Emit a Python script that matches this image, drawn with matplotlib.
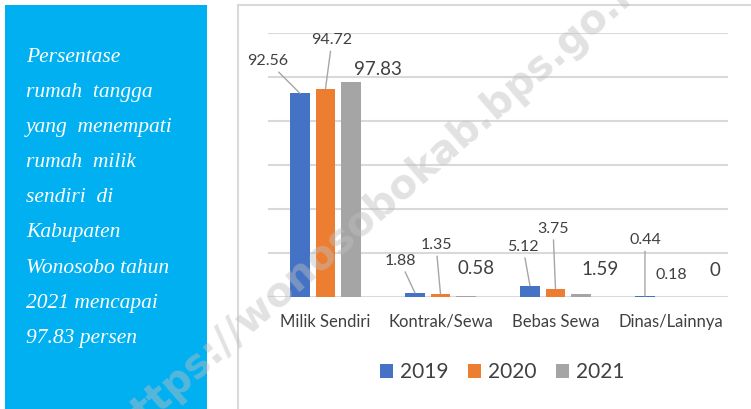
import matplotlib
matplotlib.use('Agg')
import matplotlib.pyplot as plt
import numpy as np
from matplotlib.patches import Rectangle
from matplotlib.font_manager import FontProperties

# data
categories = ['Milik Sendiri', 'Kontrak/Sewa', 'Bebas Sewa', 'Dinas/Lainnya']
years = ['2019', '2020', '2021']
v2019 = [92.56, 1.88, 5.12, 0.44]
v2020 = [94.72, 1.35, 3.75, 0.18]
v2021 = [97.83, 0.58, 1.59, 0]

panel_lines = ['Persentase', 'rumah  tangga', 'yang  menempati', 'rumah  milik',
               'sendiri  di', 'Kabupaten', 'Wonosobo tahun', '2021 mencapai',
               '97.83 persen']

colors = ['#4472c4', '#ed7d31', '#a5a5a5']
txt = '#404040'
plt.rcParams['font.family'] = 'Lato'

W, H = 751, 409
fig = plt.figure(figsize=(W / 100, H / 100), dpi=100)

# left blue panel
fig.patches.append(Rectangle((5 / W, 0), 202 / W, 1 - 5 / H, transform=fig.transFigure,
                             facecolor='#00b0f0', edgecolor='none', zorder=0))
serif_it = FontProperties(family=['Liberation Serif', 'DejaVu Serif'], style='italic', size=15.5)
for i, line in enumerate(panel_lines):
    fig.text(26 / W, 1 - (62 + 35.1 * i) / H, line, color='white',
             fontproperties=serif_it, va='baseline', ha='left')

# chart frame
fig.add_artist(plt.Line2D([238 / W, 1], [1 - 5 / H, 1 - 5 / H], transform=fig.transFigure,
                          color='#d9d9d9', lw=1.5))
fig.add_artist(plt.Line2D([238 / W, 238 / W], [0, 1 - 5 / H], transform=fig.transFigure,
                          color='#d9d9d9', lw=1.5))

ax = fig.add_axes([268 / W, 1 - 297 / H, 460 / W, 264 / H])
ax.patch.set_alpha(0)
x = np.arange(len(categories))
bw = 0.17
step = 0.222
series = [v2019, v2020, v2021]
bars = []
for k, vals in enumerate(series):
    b = ax.bar(x + (k - 1) * step, vals, bw, color=colors[k], label=years[k], zorder=3)
    bars.append(b)

ax.set_xlim(-0.5, 3.5)
ax.set_ylim(0, 120)
ax.set_yticks(np.arange(0, 121, 20))
ax.yaxis.grid(True, color='#d9d9d9', lw=1.5, zorder=0)
ax.tick_params(axis='y', length=0, labelleft=False)
ax.set_xticks(x)
ax.set_xticklabels(categories, fontsize=12, color=txt)
ax.tick_params(axis='x', length=0, pad=12)
for s in ax.spines.values():
    s.set_visible(False)

# label offsets (px) relative to bar top, and whether a leader line is drawn
offsets = [
    [(-32, 32, True), (-15, 32, True), (-7, 39, True), (0, 56, True)],
    [(6.5, 48.6, True), (-4.5, 49, True), (-2.5, 60, True), (0.5, 21.6, False)],
    [(27, 12, False), (10, 27, False), (19, 24.5, False), (19, 26, False)],
]
for k, vals in enumerate(series):
    fs = 13.5 if k == 2 else 11.5
    for j, v in enumerate(vals):
        dx, dy, lead = offsets[k][j]
        xb = x[j] + (k - 1) * step
        lbl = '%g' % v
        ap = dict(arrowstyle='-', color='#a6a6a6', lw=1, shrinkA=1, shrinkB=0) if lead else None
        ax.annotate(lbl, (xb, v), xytext=(dx * 0.72, dy * 0.72), textcoords='offset points',
                    ha='center', va='center', fontsize=fs, color=txt, arrowprops=ap,
                    zorder=5)

leg = fig.legend(handles=bars, labels=years, loc='center', bbox_to_anchor=(502 / W, 1 - 372 / H),
                 ncol=3, frameon=False, fontsize=15, handlelength=0.65, handleheight=0.65,
                 handletextpad=0.3, columnspacing=0.95, labelcolor=txt)

# watermark
fig.text(382 / W, 1 - 203 / H, 'https://wonosobokab.bps.go.id', fontsize=29,
         family='DejaVu Sans', weight='bold', color='#bfbfbf', alpha=0.45,
         rotation=41, rotation_mode='anchor', ha='center', va='center', zorder=10)

fig.savefig('out.png', dpi=100)
